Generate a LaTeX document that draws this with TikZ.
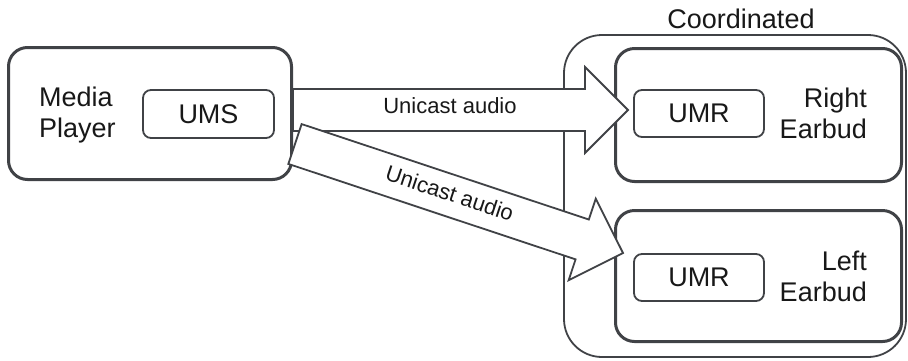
\documentclass[tikz,border=0pt]{standalone}
\usepackage{fontspec}
\setmainfont{Liberation Sans}
\usetikzlibrary{calc}
\definecolor{edge}{RGB}{64,66,70}
\definecolor{ink}{RGB}{24,24,24}
\newcommand{\fatarrow}[2]{%
  \coordinate (hb) at ($(#2)!43pt!(#1)$);
  \draw[fatarrow] ($(#1)!21pt!90:(#2)$) -- ($(hb)!21pt!-90:(#1)$) -- ($(hb)!43pt!-90:(#1)$)
    -- (#2) -- ($(hb)!43pt!90:(#1)$) -- ($(hb)!21pt!90:(#1)$) -- ($(#1)!21pt!-90:(#2)$) -- cycle;}
\begin{document}
\begin{tikzpicture}[x=1pt,y=-1pt,
  bigbox/.style={draw=edge, line width=3pt, rounded corners=19pt, inner sep=0pt},
  smallbox/.style={draw=edge, line width=1.8pt, rounded corners=8pt, inner sep=0pt,
    minimum width=130pt, minimum height=47pt, font=\fontsize{27}{31}\selectfont, text=ink},
  lbl/.style={font=\fontsize{27}{31}\selectfont, text=ink, inner sep=0pt},
  arrowlbl/.style={font=\fontsize{22}{26}\selectfont, text=ink, inner sep=0pt},
  fatarrow/.style={draw=edge, fill=white, line width=1.8pt, line join=miter}]
\useasboundingbox (0,0) rectangle (908,360);
% coordinated group
\node[draw=edge, line width=1.8pt, rounded corners=38pt, minimum width=342pt, minimum height=322pt] (grp) at (735,196) {};
\node[lbl] (grplbl) at (741,18.4) {Coordinated};
% earbuds
\node[bigbox, minimum width=286pt, minimum height=133pt] (rbud) at (758.5,115) {};
\node[bigbox, minimum width=286pt, minimum height=131pt] (lbud) at (758.5,276) {};
\node[lbl, anchor=east, align=right] (rtxt) at (867,113) {Right\\Earbud};
\node[lbl, anchor=east, align=right] (ltxt) at (867,276.5) {Left\\Earbud};
% media player
\node[bigbox, minimum width=283pt, minimum height=132pt] (mp) at (150,113.5) {};
\node[lbl, anchor=west, align=left] (mptxt) at (39,115.5) {Media\\Player};
\node[smallbox, minimum width=131pt, minimum height=48pt] (ums) at (208.5,114) {UMS};
% arrows
\coordinate (a1s) at (293,110);
\coordinate (a1e) at (628,110);
\coordinate (a2s) at (295,144);
\coordinate (a2e) at (623,253);
\fatarrow{a1s}{a1e}
\fatarrow{a2s}{a2e}
\node[arrowlbl] (l1) at (450,105.5) {Unicast audio};
\path (a2s) -- (a2e) node[arrowlbl, pos=0.47, sloped, yshift=2pt] (l2) {Unicast audio};
% receivers
\node[smallbox] (umr1) at (699,113.5) {UMR};
\node[smallbox] (umr2) at (699,277.5) {UMR};
\end{tikzpicture}
\end{document}
